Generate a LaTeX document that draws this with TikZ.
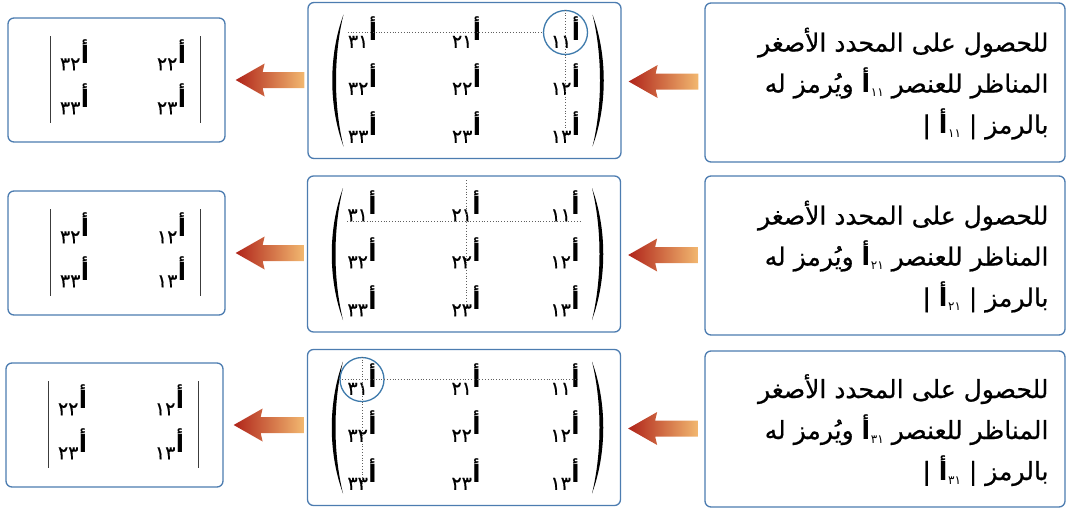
\documentclass[tikz,border=0pt]{standalone}
\usepackage{fontspec}
\usetikzlibrary{calc}
\TeXXeTstate=1
\newfontfamily\arabicfont[Script=Arabic]{DejaVu Sans}
\newfontfamily\arabicmed[Script=Arabic, FakeBold=0.6]{DejaVu Sans}
\definecolor{boxblue}{RGB}{76,124,176}
\definecolor{circblue}{RGB}{62,122,172}
\definecolor{arrred}{RGB}{176,36,26}
\definecolor{arrmid}{RGB}{204,74,32}
\definecolor{arrlight}{RGB}{242,184,112}
\definecolor{dotgray}{RGB}{95,95,95}
\definecolor{bargray}{RGB}{60,60,60}

\newcommand\ad[1]{\ifcase#1\or ١\or ٢\or ٣\fi}
% matrix element: subscript digits at left, raised bold alef at right
\newcommand\elm[1]{\hbox{\fontsize{19}{19}\arabicmed #1\kern0.4pt\raisebox{7pt}{\fontsize{24}{24}\arabicfont\bfseries أ}}}
% element inside running text
\newcommand\txtelm[1]{\hbox{\lower4pt\hbox{\fontsize{12}{12}\arabicfont #1}\kern0.6pt{\arabicfont\bfseries أ}}}

\newcommand\matrixbox[2]{%
  \node[panel, minimum width=313pt, minimum height=156pt] (#1) at (#2) {};
  \foreach \c/\cx in {1/101,2/2,3/-102}{%
    \foreach \r/\ry in {1/-48,2/-1,3/47}{%
      \node[elnode] (#1-\c\r) at ($(#1.center)+(\cx,\ry)$) {\elm{\ad{\c}\ad{\r}}};
    }%
  }%
  \begin{scope}[shift={(#1.center)}]
    \fill (-121,-66) .. controls (-136,-25) and (-136,25) .. (-121,66)
          .. controls (-131,25) and (-131,-25) .. (-121,-66) -- cycle;
    \fill (128,-66) .. controls (143,-25) and (143,25) .. (128,66)
          .. controls (138,25) and (138,-25) .. (128,-66) -- cycle;
  \end{scope}
}

\newcommand\detbox[6]{%
  \node[panel, minimum width=217pt, minimum height=124pt] (#1) at (#2) {};
  \node[elnode] (#1-a) at ($(#1.center)+(-42,-25)$) {\elm{#3}};
  \node[elnode] (#1-b) at ($(#1.center)+(55,-25)$) {\elm{#4}};
  \node[elnode] (#1-c) at ($(#1.center)+(-42,19)$) {\elm{#5}};
  \node[elnode] (#1-d) at ($(#1.center)+(55,19)$) {\elm{#6}};
  \draw[detbar] ($(#1.center)+(-66,-44)$) -- ($(#1.center)+(-66,43)$);
  \draw[detbar] ($(#1.center)+(84,-44)$) -- ($(#1.center)+(84,43)$);
}

\newcommand\fatarrow[2]{%
  \shade[left color=arrred, middle color=arrmid, right color=arrlight]
    let \p1=(#1), \p2=(#2) in
    (\x1,\y1) -- (\x1+29pt,\y1+16.5pt) -- (\x1+27pt,\y1+8pt) -- (\x2,\y1+8pt)
    -- (\x2,\y1-8pt) -- (\x1+27pt,\y1-8pt) -- (\x1+29pt,\y1-16.5pt) -- cycle;
}

\begin{document}
\begin{tikzpicture}[x=1pt,y=-1pt,
  panel/.style={draw=boxblue, line width=1.3pt, rounded corners=6pt, inner sep=0pt, fill=white},
  elnode/.style={inner sep=0pt},
  detbar/.style={draw=bargray, line width=1.5pt},
  dotln/.style={draw=dotgray, dotted, line width=0.8pt},
  circ/.style={draw=circblue, line width=1.3pt, circle, minimum size=44pt, inner sep=0pt},
  txt/.style={anchor=base east, inner sep=0pt, font=\fontsize{25}{29}\arabicmed}]
\useasboundingbox (0,0) rectangle (1068,509);

% ---------- row 1 ----------
\node[panel, minimum width=360pt, minimum height=159pt] (R1) at (885,82.5) {};
\node[txt] (R1a) at ($(R1.east)+(-17,-31)$) {\beginR للحصول على المحدد الأصغر\endR};
\node[txt] (R1b) at ($(R1.east)+(-17,10)$) {\beginR المناظر للعنصر \txtelm{١١} ويُرمز له\endR};
\node[txt] (R1c) at ($(R1.east)+(-17,51)$) {\beginR بالرمز | \txtelm{١١} |\endR};
\matrixbox{M1}{464.5,80.5}
\detbox{L1}{116.5,80}{٣٢}{٢٢}{٣٣}{٢٣}
\node[circ] (C1) at (M1-11) {};
\draw[dotln] (M1-31.west) -- (C1.west);
\draw[dotln] (C1.north) -- (M1-13.center);
\fatarrow{$(L1.east)+(10,0)$}{$(M1.west)+(-3,0)$}
\fatarrow{$(M1.east)+(7,1)$}{$(R1.west)+(-6,0)$}

% ---------- row 2 ----------
\node[panel, minimum width=360pt, minimum height=159pt] (R2) at (885,255.5) {};
\node[txt] (R2a) at ($(R2.east)+(-17,-31)$) {\beginR للحصول على المحدد الأصغر\endR};
\node[txt] (R2b) at ($(R2.east)+(-17,10)$) {\beginR المناظر للعنصر \txtelm{٢١} ويُرمز له\endR};
\node[txt] (R2c) at ($(R2.east)+(-17,51)$) {\beginR بالرمز | \txtelm{٢١} |\endR};
\matrixbox{M2}{464,254}
\detbox{L2}{116.5,253}{٣٢}{١٢}{٣٣}{١٣}
\draw[dotln] (M2-31.south west) -- (M2-11.south east);
\draw[dotln] ($(M2-21.north)+(0,-10)$) -- (M2-23.center);
\fatarrow{$(L2.east)+(10,0)$}{$(M2.west)+(-3,0)$}
\fatarrow{$(M2.east)+(7,1)$}{$(R2.west)+(-6,0)$}

% ---------- row 3 ----------
\node[panel, minimum width=360pt, minimum height=156pt] (R3) at (885,429) {};
\node[txt] (R3a) at ($(R3.east)+(-17,-31)$) {\beginR للحصول على المحدد الأصغر\endR};
\node[txt] (R3b) at ($(R3.east)+(-17,10)$) {\beginR المناظر للعنصر \txtelm{٣١} ويُرمز له\endR};
\node[txt] (R3c) at ($(R3.east)+(-17,51)$) {\beginR بالرمز | \txtelm{٣١} |\endR};
\matrixbox{M3}{464,427.5}
\detbox{L3}{114.5,425}{٢٢}{١٢}{٢٣}{١٣}
\node[circ] (C3) at (M3-31) {};
\draw[dotln] (C3.west) -- (M3-11.east);
\draw[dotln] (C3.north) -- (M3-33.south);
\fatarrow{$(L3.east)+(10,0)$}{$(M3.west)+(-3,0)$}
\fatarrow{$(M3.east)+(7,1)$}{$(R3.west)+(-6,0)$}
\end{tikzpicture}
\end{document}
